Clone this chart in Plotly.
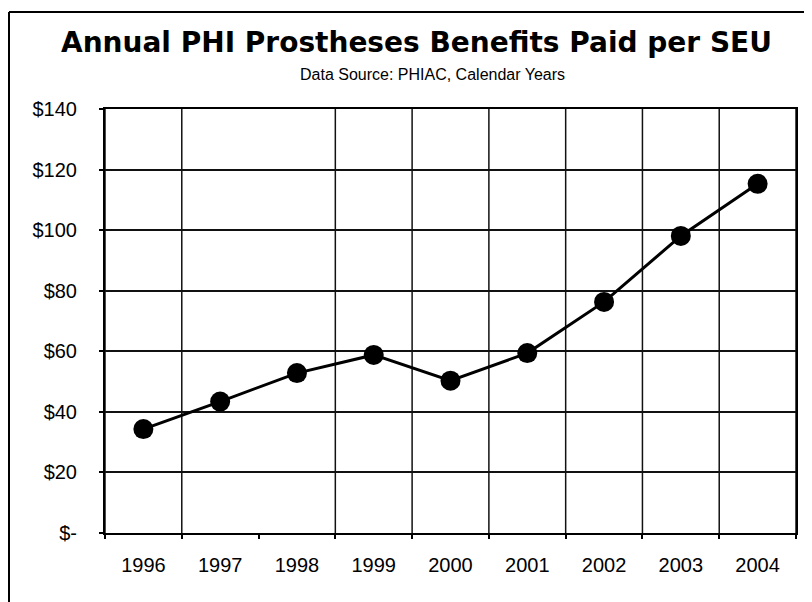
import plotly.graph_objects as go

# ---- data ----
years = ["1996", "1997", "1998", "1999", "2000", "2001", "2002", "2003", "2004"]
benefits = [34.3, 43.4, 52.8, 58.8, 50.3, 59.4, 76.3, 98.1, 115.3]
y_tick_values = [0, 20, 40, 60, 80, 100, 120, 140]
y_tick_labels = ["$-", "$20", "$40", "$60", "$80", "$100", "$120", "$140"]

title_text = "Annual PHI Prostheses Benefits Paid per SEU"
subtitle_text = "Data Source: PHIAC, Calendar Years"

# page has an 8px body margin; figure sized to fit the 812x602 window
OFF = 8
W, H = 812 - OFF, 602 - OFF
L, R, T, B = 105 - OFF, 16, 109 - OFF, 69
pw, ph = W - L - R, H - T - B

def px_x(p):  # page pixel -> paper x
    return (p - OFF - L) / pw

def px_y(p):  # page pixel -> paper y
    return (H - B - (p - OFF)) / ph

idx = list(range(len(years)))
boundaries = [i - 0.5 for i in range(len(years) + 1)]
grid_bounds = [b for b in boundaries if b != 1.5]

fig = go.Figure()
fig.add_trace(go.Scatter(
    x=idx, y=benefits, mode="lines+markers",
    line=dict(color="black", width=3),
    marker=dict(color="black", size=20),
    showlegend=False, cliponaxis=False,
))

tick_font = dict(family="Liberation Sans, Arial, sans-serif", size=20, color="black")

fig.update_layout(
    width=W, height=H,
    margin=dict(l=L, r=R, t=T, b=B, pad=0),
    paper_bgcolor="white", plot_bgcolor="white",
    xaxis=dict(
        range=[-0.5, len(years) - 0.5],
        tickmode="array", tickvals=idx, ticktext=years,
        ticks="", showgrid=False, zeroline=False,
        showline=True, linecolor="black", linewidth=2, mirror=True,
        tickfont=tick_font, ticklabelstandoff=13,
        minor=dict(tickmode="array", tickvals=boundaries, showgrid=False,
                   ticks="outside", ticklen=4, tickcolor="black", tickwidth=1.5),
    ),
    yaxis=dict(
        range=[0, 140],
        tickmode="array", tickvals=y_tick_values, ticktext=y_tick_labels,
        ticks="outside", ticklen=4, tickcolor="black", tickwidth=1.5,
        showgrid=True, gridcolor="#111111", gridwidth=1.5, zeroline=False,
        showline=True, linecolor="black", linewidth=2, mirror=True,
        tickfont=tick_font, ticklabelstandoff=18,
    ),
    annotations=[
        dict(text="<b>" + title_text + "</b>", xref="paper", yref="paper",
             x=px_x(416), y=px_y(43), xanchor="center", yanchor="middle",
             showarrow=False,
             font=dict(family="DejaVu Sans, Verdana, sans-serif", size=28, color="black")),
        dict(text=subtitle_text, xref="paper", yref="paper",
             x=px_x(432), y=px_y(75), xanchor="center", yanchor="middle",
             showarrow=False,
             font=dict(family="Liberation Sans, Arial, sans-serif", size=16, color="black")),
    ],
    shapes=[
        dict(type="line", xref="paper", yref="paper",
             x0=px_x(OFF + 1), x1=px_x(OFF + 1), y0=px_y(12), y1=px_y(602),
             line=dict(color="black", width=2)),
        dict(type="line", xref="paper", yref="paper",
             x0=px_x(OFF + 1), x1=px_x(812), y0=px_y(12), y1=px_y(12),
             line=dict(color="black", width=2)),
    ] + [
        dict(type="line", xref="x", yref="paper", x0=b, x1=b, y0=0, y1=1,
             line=dict(color="#111111", width=1.5), layer="below")
        for b in grid_bounds
    ],
)

fig.write_html("out.html")
